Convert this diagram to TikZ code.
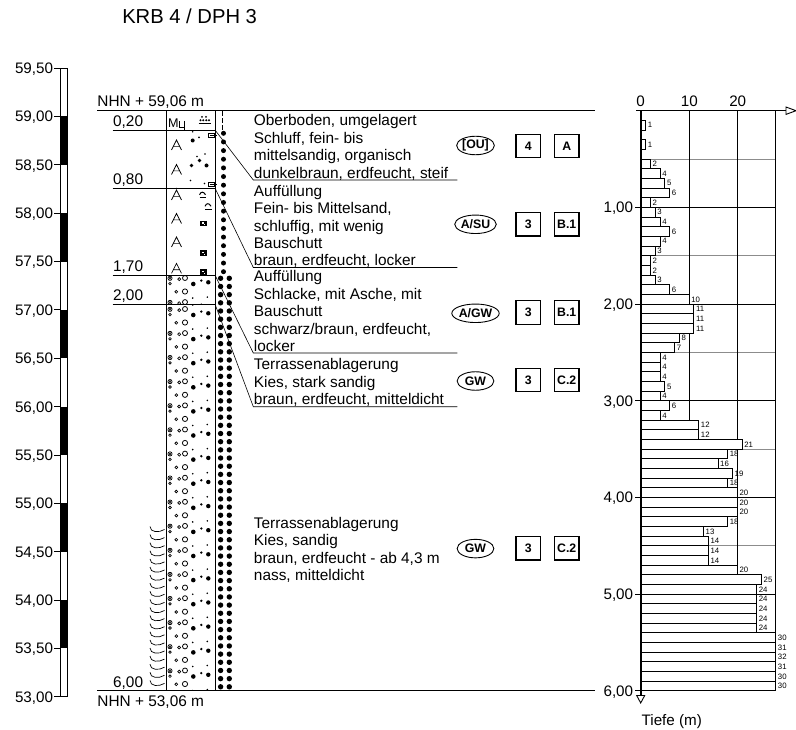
\documentclass[tikz,border=0pt]{standalone}
\usepackage{fontspec}
\setmainfont{Liberation Sans}
\usetikzlibrary{shapes.geometric}
\newcommand\mygravel[1]{%
 \draw[line width=0.7pt] (170,#1) circle (2.1);
 \draw[line width=0.5pt] (168.6,#1-1.4)--(171.4,#1+1.4) (168.6,#1+1.4)--(171.4,#1-1.4);
 \draw[line width=0.7pt] (170,#1+5.4) circle (1.3);
 \draw[line width=0.7pt] (179.2,#1+0.8) circle (1.5);
 \draw[line width=0.8pt] (185,#1-0.3) circle (2.5);
 \draw[line width=0.7pt] (176.3,#1+13.5) circle (1.4);
 \draw[line width=0.8pt] (185,#1+13.2) circle (2.6);
 \fill (193.3,#1+5.7) circle (2.3);
 \fill (192.7,#1-4.3) circle (0.9);
 \fill (201.3,#1+2.3) circle (1.3);
 \fill (207.3,#1-5.3) circle (0.9);
 \fill (208.3,#1+4) circle (2.2);
}
\newcommand\myA[1]{\draw[line width=0.7pt] (171.5,#1)--(176.5,#1-10)--(181.5,#1) (173.2,#1-3.6)--(179.8,#1-3.6);}
\begin{document}
\begin{tikzpicture}[x=1pt,y=-1pt,line width=0.9pt,
 desc/.style={font=\fontsize{15.4}{17.5}\selectfont,anchor=base west,inner sep=0},
 lab/.style={font=\fontsize{15.2}{18}\selectfont,inner sep=0},
 blab/.style={font=\fontsize{7.8}{9}\selectfont,anchor=west,inner sep=0},
 badge/.style={draw,ellipse,minimum width=36.7pt,minimum height=18.5pt,inner sep=0,font=\bfseries\fontsize{12.3}{13}\selectfont},
 cbox/.style={draw,rectangle,minimum width=24.7pt,minimum height=23.4pt,inner sep=0,line width=1.2pt,font=\bfseries\fontsize{12.3}{13}\selectfont},
 gridg/.style={draw=black!45,line width=0.8pt},
 thinl/.style={line width=0.6pt}]
\useasboundingbox (0,0) rectangle (796,730);
\fill[white] (0,0) rectangle (796,730);

% title
\node[font=\fontsize{20.2}{24}\selectfont,anchor=base west,inner sep=0] (title) at (121.8,24) {KRB 4 / DPH 3};

% left elevation scale
\foreach \k in {0,...,5} \fill (60,116.5+96.7*\k) rectangle (67.7,164.85+96.7*\k);
\draw (60,68.2) rectangle (67.7,696.75);
\foreach \t [count=\j from 0] in {{59,50},{59,00},{58,50},{58,00},{57,50},{57,00},{56,50},{56,00},{55,50},{55,00},{54,50},{54,00},{53,50},{53,00}} {
  \draw (54,68.2+48.35*\j)--(60,68.2+48.35*\j);
  \node[lab,anchor=base east] (el\j) at (53.5,68.2+48.35*\j+5.4) {\t};
}

% top and bottom lines
\node[lab,anchor=base west,font=\fontsize{15.4}{18}\selectfont] (nhntop) at (97,106.7) {NHN + 59,06 m};
\node[lab,anchor=base west,font=\fontsize{15.4}{18}\selectfont] (nhnbot) at (97,706.7) {NHN + 53,06 m};
\draw (97,110.7)--(595,110.7);
\draw (97,690.9)--(595,690.9);

% layer boundary lines and depth labels
\foreach \yy/\t/\n in {130/{0,20}/a,188.1/{0,80}/b,275.1/{1,70}/c,304.1/{2,00}/d,690.9/{6,00}/e} {
  \draw (112.7,\yy)--(215,\yy);
  \node[lab,anchor=base west,font=\fontsize{15.4}{18}\selectfont] (dl\n) at (112.7,\yy-3.3) {\t};
}

% column patterns
% layer 1
\node[font=\fontsize{12.6}{13}\selectfont,anchor=base west,inner sep=0] (mu) at (167.6,127.3) {M};
\draw[thinl] (179,121.5)--(179,127.5)--(184.5,127.5);
\draw[thinl] (184.5,121)--(184.5,130);
\fill (202,116.8) circle (1) (206,116.8) circle (1);
\fill (200.5,120.3) circle (1.1) (203.3,120.3) circle (1.1) (206.3,120.3) circle (1.1) (209,120.3) circle (1.1);
\draw (198.5,123.4)--(211,123.4);
% layer 2
\begin{scope}
\clip (166.7,130) rectangle (215,188.1);
\myA{150}\myA{174.5}\myA{198.5}
\fill (192.7,140.5) circle (2) (199,137.5) circle (1) (192.7,131.8) circle (0.8);
\fill (191.5,165.5) circle (1.9) (199.5,160.5) circle (1.9) (206.5,165.5) circle (2) (197,156.5) circle (0.8) (205,154) circle (0.8);
\fill (190.5,180.5) circle (0.8) (204.5,183.5) circle (0.8);
\end{scope}
\draw[thinl] (208.5,133)rectangle(214.5,137.3); \draw[thinl] (210,135.2)--(216.5,135.2);
\draw[thinl] (208.5,182.3)rectangle(214.5,186.6); \draw[thinl] (210,184.5)--(216.5,184.5);
% layer 3
\begin{scope}
\clip (166.7,188.1) rectangle (215,275.1);
\myA{200}\myA{223.5}\myA{247}\myA{273.3}
\draw[line width=1pt] (199.5,194.8) .. controls (201,191.3) and (203.5,191.3) .. (205.5,194.8);
\draw[thinl] (199.5,197.8)--(206.2,197.8);
\draw[line width=1pt] (205,206.3) .. controls (206.5,202.8) and (209,202.8) .. (211,206.3);
\draw[thinl] (205,209.3)--(211.7,209.3);
\foreach \yb in {221,250.5,269.5} {
 \fill (200.3,\yb) rectangle (206.5,\yb+5.4);
 \fill[white] (201.8,\yb+1.3) rectangle (203.5,\yb+2.8);
 \fill[white] (203.6,\yb+3.2) rectangle (205.2,\yb+4.3);
}
\end{scope}
% gravel layers
\begin{scope}
\clip (166.7,275.1) rectangle (215,304.1);
\foreach \r in {278.3,302.4} {\mygravel{\r}}
\end{scope}
\begin{scope}
\clip (166.7,304.1) rectangle (215,690.9);
\foreach \k in {0,...,16} {\pgfmathsetmacro\r{309.3+24.1*\k}\mygravel{\r}}
\end{scope}
% column frame
\draw (166.7,110.7)--(166.7,690.9);
\draw (215,110.7)--(215,690.9);

% consistency column
\draw[dash pattern=on 4.5pt off 2.5pt] (222.7,111.5)--(222.7,130);
\foreach \k in {0,...,16} \fill (223.5,133.3+8.65*\k) circle (2.5);
\foreach \k in {0,...,50} {\fill (220.6,278.3+8.17*\k) circle (2.7); \fill (229.3,278.3+8.17*\k) circle (2.7);}

% wet marks
\foreach \k in {0,...,19} \draw[line width=0.7pt] (150,530+8.1*\k-3.5) .. controls (150,530+8.1*\k+2.5) and (159,530+8.1*\k+3) .. (164.5,530+8.1*\k-0.5);

% descriptions
\foreach \t [count=\i from 0] in {{Oberboden, umgelagert},{Schluff, fein- bis},{mittelsandig, organisch},{dunkelbraun, erdfeucht, steif}}
  \node[desc] (da\i) at (253.5,126+17.35*\i) {\t};
\foreach \t [count=\i from 0] in {{Auffüllung},{Fein- bis Mittelsand,},{schluffig, mit wenig},{Bauschutt},{braun, erdfeucht, locker}}
  \node[desc] (db\i) at (253.5,196.7+17.3*\i) {\t};
\foreach \t [count=\i from 0] in {{Auffüllung},{Schlacke, mit Asche, mit},{Bauschutt},{schwarz/braun, erdfeucht,},{locker}}
  \node[desc] (dc\i) at (253.5,281.7+17.5*\i) {\t};
\foreach \t [count=\i from 0] in {{Terrassenablagerung},{Kies, stark sandig},{braun, erdfeucht, mitteldicht}}
  \node[desc] (dd\i) at (253.5,369.5+17.6*\i) {\t};
\foreach \t [count=\i from 0] in {{Terrassenablagerung},{Kies, sandig},{braun, erdfeucht - ab 4,3 m},{nass, mitteldicht}}
  \node[desc] (de\i) at (253.5,528.3+17.5*\i) {\t};

% connectors
\coordinate (b1) at (215,130);   \coordinate (u1) at (253.3,180);   \coordinate (e1) at (457.3,180);
\coordinate (b2) at (215,188.1); \coordinate (u2) at (253.3,267.5); \coordinate (e2) at (457.3,267.5);
\coordinate (b3) at (215,275.1); \coordinate (u3) at (253.3,353);   \coordinate (e3) at (457.3,353);
\coordinate (b4) at (215,304.1); \coordinate (u4) at (253.3,406.7); \coordinate (e4) at (457.3,406.7);
\draw[thinl] (b1)--(u1)--(e1);
\draw[thinl] (b2)--(u2)--(e2);
\draw[thinl] (b3)--(u3)--(e3);
\draw[thinl] (b4)--(u4)--(e4);

% badges
\node[badge] (g1) at (475.5,145.5) {[OU]};
\node[cbox] (n1) at (528.3,146) {4};
\node[cbox] (k1) at (566.7,146) {A};
\node[badge] (g2) at (475.5,224.3) {A/SU};
\node[cbox] (n2) at (528.3,224.3) {3};
\node[cbox] (k2) at (566.7,224.3) {B.1};
\node[badge] (g3) at (475.5,313.3) {A/GW};
\node[cbox] (n3) at (528.3,312.5) {3};
\node[cbox] (k3) at (566.7,312.5) {B.1};
\node[badge] (g4) at (475.5,381) {GW};
\node[cbox] (n4) at (528.3,380) {3};
\node[cbox] (k4) at (566.7,380) {C.2};
\node[badge] (g5) at (475.5,548.6) {GW};
\node[cbox] (n5) at (528.3,548.3) {3};
\node[cbox] (k5) at (566.7,548.3) {C.2};

% right chart grid
\foreach \k in {1,3,5,7,9,11} \draw[gridg] (640.7,110.7+48.35*\k)--(775.7,110.7+48.35*\k);
\foreach \k/\t in {1/{1,00},2/{2,00},3/{3,00},4/{4,00},5/{5,00}} {
  \draw (635,110.7+96.7*\k)--(775.7,110.7+96.7*\k);
  \node[lab,anchor=base east] (dp\k) at (633.6,110.7+96.7*\k+5.4) {\t};
}
\draw (635,690.9)--(640.7,690.9);
\node[lab,anchor=base east] (dp6) at (633.6,696.3) {6,00};
\draw (689.3,110.7)--(689.3,690.9);
\draw (737.7,110.7)--(737.7,690.9);
\draw (775.7,110.7)--(775.7,690.9);
\node[lab,anchor=base] (x0) at (640.7,106.7) {0};
\node[lab,anchor=base] (x10) at (689.3,106.7) {10};
\node[lab,anchor=base] (x20) at (737.7,106.7) {20};
\draw (636,110.7)--(786,110.7);
\draw[fill=white] (786,107)--(796,110.7)--(786,114.4)--cycle;

% bars
\foreach \v [count=\i from 0] in {0,1,0,1,0,2,4,5,6,2,3,4,6,4,3,2,2,3,6,10,11,11,11,8,7,4,4,4,5,4,6,4,12,12,21,18,16,19,18,20,20,20,18,13,14,14,14,20,25,24,24,24,24,24,30,31,32,31,30,30} {
  \ifnum\v>0
    \pgfmathsetmacro\ya{110.7+9.67*\i}
    \pgfmathsetmacro\yb{\ya+9.67}
    \pgfmathsetmacro\xe{min(640.7+4.83*\v,775.7)}
    \draw[fill=white] (640.7,\ya) rectangle (\xe,\yb);
    \node[blab] (bl\i) at (\xe+1.8,\ya+4.9) {\v};
  \fi
}
\draw[line width=1.8pt] (640.7,110.7)--(640.7,695.5);
\draw[fill=white] (636.7,695.5)--(644.7,695.5)--(640.7,703)--cycle;
\node[lab,anchor=base west] (tiefe) at (641.2,725) {Tiefe (m)};
\end{tikzpicture}
\end{document}
